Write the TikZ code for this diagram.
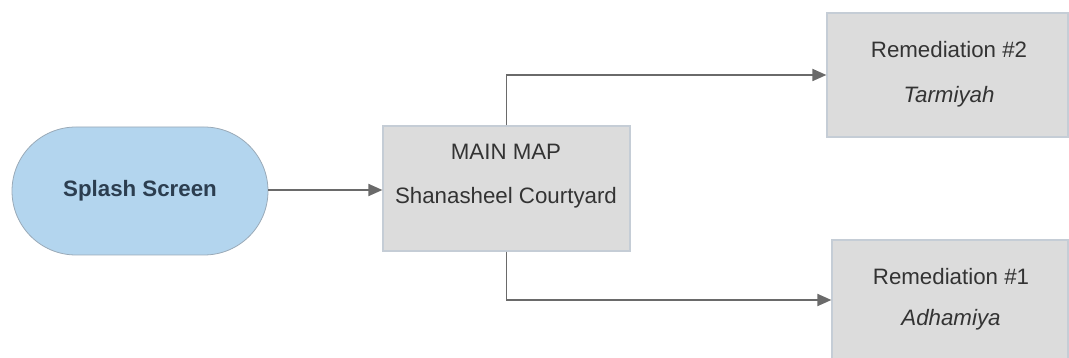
\documentclass[tikz,border=0pt]{standalone}
\usepackage{fontspec}
\setmainfont{Liberation Sans}
\usetikzlibrary{arrows.meta,shapes.misc}
\definecolor{boxfill}{HTML}{DCDCDC}
\definecolor{boxedge}{HTML}{C5CDD6}
\definecolor{pillfill}{HTML}{B3D5EE}
\definecolor{pilledge}{HTML}{9AAAB8}
\definecolor{txt}{HTML}{333333}
\definecolor{pilltxt}{HTML}{2C3E50}
\definecolor{link}{HTML}{6A6A6A}
\begin{document}
\begin{tikzpicture}[x=1pt,y=-1pt,
  every node/.style={font=\fontsize{22.3}{26}\selectfont, text=txt},
  screenbox/.style={draw=boxedge, line width=1.2pt, fill=boxfill, inner sep=0pt},
  pill/.style={rounded rectangle, draw=pilledge, line width=0.8pt, fill=pillfill,
    minimum width=256pt, minimum height=128pt, inner sep=0pt},
  link/.style={draw=link, line width=1.8pt, -{Triangle[length=14pt,width=12pt]}}]
\useasboundingbox (0,0) rectangle (1069,358);
% start screen
\node[pill, text=pilltxt, font=\fontsize{22.3}{26}\selectfont\bfseries] (splash) at (140,191) {Splash Screen};
% main map
\node[screenbox, minimum width=247pt, minimum height=125pt] (main) at (506.5,188.5) {};
\node (maint) at (506,152) {MAIN MAP};
\node (mains) at (506,198) {Shanasheel Courtyard};
% remediation screens
\node[screenbox, minimum width=241pt, minimum height=124pt] (rem2) at (947.5,75) {};
\node (r2t) at (949,50) {Remediation \#2};
\node (r2s) at (949,97) {\itshape Tarmiyah};
\node[screenbox, minimum width=236pt, minimum height=120pt] (rem1) at (950,300) {};
\node (r1t) at (951,277) {Remediation \#1};
\node (r1s) at (951,320) {\itshape Adhamiya};
% connectors
\draw[link] (splash.east |- 0,190) -- (main.west |- 0,190);
\draw[link] (main.north) |- (rem2.west);
\draw[link] (main.south) |- (rem1.west);
\end{tikzpicture}
\end{document}
